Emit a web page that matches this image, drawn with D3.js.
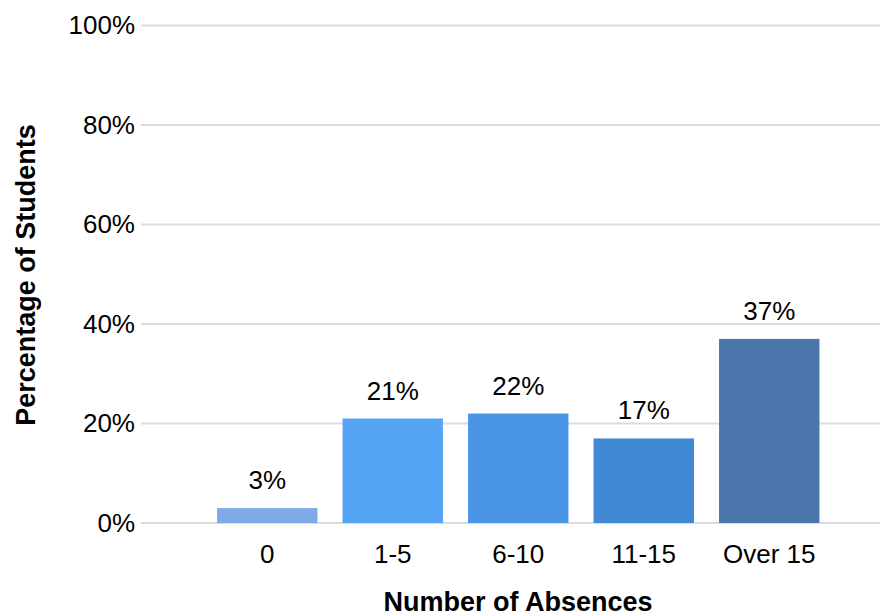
<!DOCTYPE html>
<html>
<head>
<meta charset="utf-8">
<script src="https://d3js.org/d3.v7.min.js"></script>
<style>
  body { margin: 0; background: #fff; }
  text { font-family: "Liberation Sans", Arial, sans-serif; fill: #000; }
</style>
</head>
<body>
<svg id="chart" width="880" height="615"></svg>
<script>
var categories = ["0", "1-5", "6-10", "11-15", "Over 15"];
var values = [3, 21, 22, 17, 37];
var barColors = ["#7FAAE8", "#55A5F5", "#4A96E5", "#4289D5", "#4A76AB"];
var yTicks = [0, 20, 40, 60, 80, 100];

var svg = d3.select("#chart");

var x = d3.scaleBand().domain(categories).range([204.5, 832]).paddingInner(0.2).paddingOuter(0.1);
var y = d3.scaleLinear().domain([0, 100]).range([523, 25.5]);

// gridlines
svg.append("g").selectAll("line").data(yTicks).enter().append("line")
    .attr("x1", 141).attr("x2", 880)
    .attr("y1", function (d) { return y(d); })
    .attr("y2", function (d) { return y(d); })
    .style("stroke", "#dcdcdc").style("stroke-width", 2);

// y axis labels
var yAxis = d3.axisLeft(y).tickValues(yTicks).tickSize(0).tickPadding(0)
    .tickFormat(function (d) { return d + "%"; });
var gy = svg.append("g").attr("transform", "translate(135,0)").call(yAxis);
gy.select(".domain").remove();
gy.selectAll("text").style("font-size", "26px").style("font-family", "Liberation Sans, Arial, sans-serif").attr("fill", "#000");

// bars
svg.append("g").selectAll("rect").data(values).enter().append("rect")
    .attr("x", function (d, i) { return x(categories[i]); })
    .attr("width", x.bandwidth())
    .attr("y", function (d) { return y(d); })
    .attr("height", function (d) { return y(0) - y(d); })
    .style("fill", function (d, i) { return barColors[i]; });

// value labels
svg.append("g").selectAll("text").data(values).enter().append("text")
    .text(function (d) { return d + "%"; })
    .attr("x", function (d, i) { return x(categories[i]) + x.bandwidth() / 2; })
    .attr("y", function (d) { return y(d) - 19; })
    .style("text-anchor", "middle").style("font-size", "26px");

// x axis labels
var xAxis = d3.axisBottom(x).tickSize(0).tickPadding(0);
var gx = svg.append("g").attr("transform", "translate(0,523)").call(xAxis);
gx.select(".domain").remove();
gx.selectAll("text").attr("dy", null).attr("y", 40)
    .style("font-size", "26px").style("font-family", "Liberation Sans, Arial, sans-serif").attr("fill", "#000");

// axis titles
svg.append("text").text("Number of Absences")
    .attr("x", 518).attr("y", 611)
    .style("text-anchor", "middle").style("font-size", "27px").style("font-weight", "bold");

svg.append("text").text("Percentage of Students")
    .attr("transform", "translate(35,275) rotate(-90)")
    .style("text-anchor", "middle").style("font-size", "27px").style("font-weight", "bold");
</script>
</body>
</html>
